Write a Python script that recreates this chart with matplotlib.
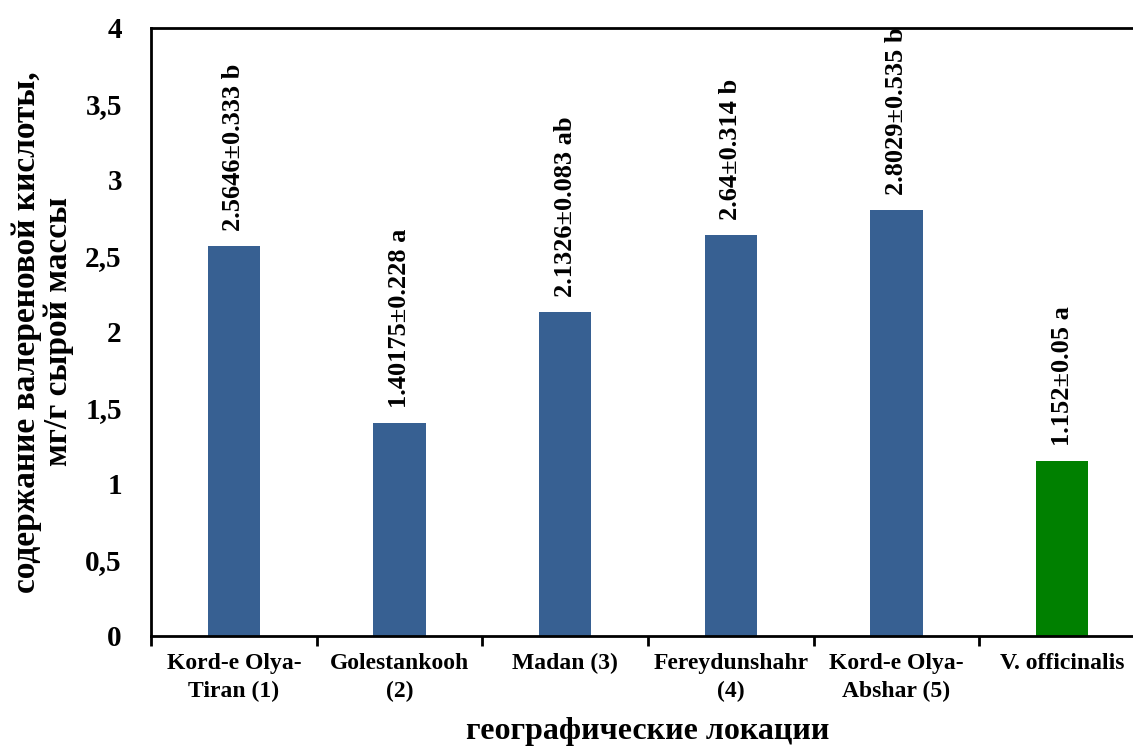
import matplotlib.pyplot as plt

plt.rcParams['font.family'] = ['Liberation Serif', 'DejaVu Serif']
plt.rcParams['font.weight'] = 'bold'

# data
locations = ['Kord-e Olya-\nTiran (1)', 'Golestankooh\n(2)', 'Madan (3)',
             'Fereydunshahr\n(4)', 'Kord-e Olya-\nAbshar (5)', 'V. officinalis']
values = [2.5646, 1.40175, 2.1326, 2.64, 2.8029, 1.152]
labels = ['2.5646±0.333 b', '1.40175±0.228 a', '2.1326±0.083 ab',
          '2.64±0.314 b', '2.8029±0.535 b', '1.152±0.05 a']
colors = ['#376092', '#376092', '#376092', '#376092', '#376092', '#008000']

fig = plt.figure(figsize=(11.33, 7.47), dpi=100)
ax = fig.add_axes([151/1133, 1 - 636/747, (1145 - 151)/1133, (636 - 28)/747])

x = range(len(values))
ax.bar(x, values, width=0.315, color=colors)

for i, v in enumerate(values):
    ax.text(i, v + 0.1, labels[i], rotation=90, ha='center', va='bottom',
            fontsize=19, fontweight='bold')

ax.set_xlim(-0.5, len(values) - 0.5)
ax.set_ylim(0, 4)
ax.set_yticks([0, 0.5, 1, 1.5, 2, 2.5, 3, 3.5, 4])
ax.set_yticklabels(['0', '0,5', '1', '1,5', '2', '2,5', '3', '3,5', '4'],
                   fontsize=21, fontweight='bold')
ax.tick_params(axis='y', length=0, pad=21)

ax.set_xticks([i - 0.5 for i in range(len(values))], minor=False)
ax.set_xticklabels([])
ax.set_xticks(list(x), minor=True)
ax.set_xticklabels(locations, minor=True, fontsize=17, fontweight='bold',
                   linespacing=1.45)
ax.tick_params(axis='x', which='major', length=7, width=2, direction='out')
ax.tick_params(axis='x', which='minor', length=0, pad=12)

ax.spines['right'].set_visible(False)
for s in ['left', 'bottom', 'top']:
    ax.spines[s].set_linewidth(2)

ax.set_ylabel('содержание валереновой кислоты,\nмг/г сырой массы',
              fontsize=24, fontweight='bold', labelpad=8, linespacing=1.05)
ax.set_xlabel('географические локации', fontsize=23, fontweight='bold', labelpad=11)

plt.savefig('out.png', dpi=100)
